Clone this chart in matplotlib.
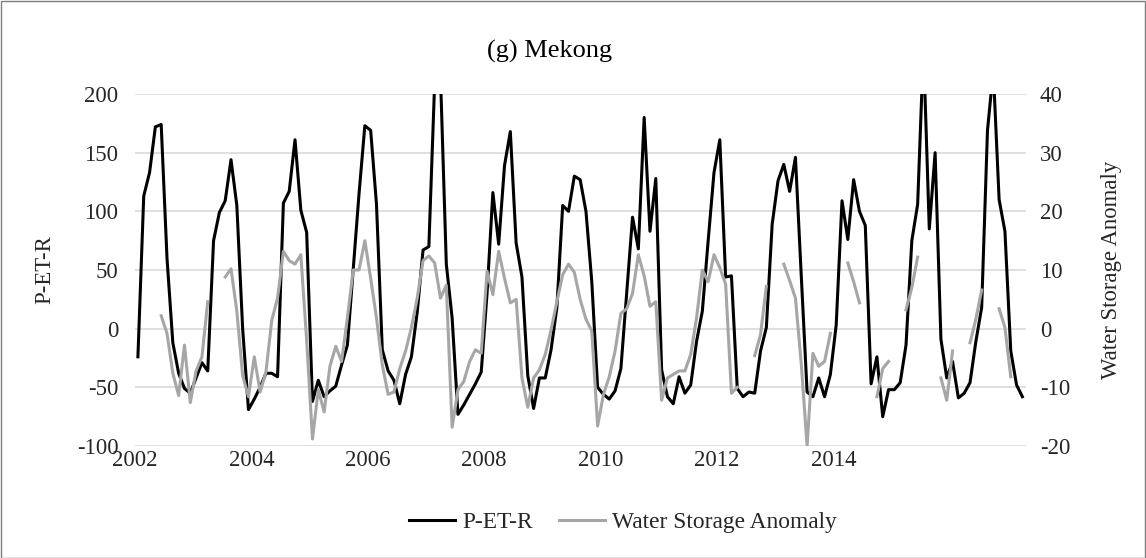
import matplotlib
matplotlib.use("Agg")

import matplotlib.pyplot as plt
import numpy as np
from matplotlib.lines import Line2D
from matplotlib.patches import Rectangle

plt.rcParams["font.family"] = ["Liberation Serif", "DejaVu Serif"]
plt.rcParams["axes.unicode_minus"] = False

# ------------------------------------------------------------------
# Data (monthly values)
# ------------------------------------------------------------------
nan = np.nan

pet_r = [
    -24, 113, 133, 172, 174, 60, -12, -38, -51, -55, -42, -29, -36,
    75, 99, 109, 144, 105, 0, -69, -60, -50, -38, -38, -41,
    107, 117, 161, 101, 82, -62, -44, -58, -53, -49, -31, -14,
    50, 115, 173, 169, 106, -18, -36, -44, -64, -39, -24, 14,
    67, 70, 210, 215, 55, 9, -73, -65, -56, -47, -37, 30,
    116, 72, 139, 168, 73, 44, -40, -68, -42, -42, -18, 18,
    105, 100, 130, 127, 100, 40, -50, -56, -60, -53, -34, 30,
    95, 68, 180, 83, 128, -35, -58, -64, -41, -55, -48, -11,
    15, 75, 133, 161, 44, 45, -51, -58, -54, -55, -19, 1,
    89, 126, 140, 117, 146, 45, -54, -58, -42, -58, -39, 3,
    109, 76, 127, 100, 88, -47, -24, -75, -52, -52, -46, -14,
    75, 106, 240, 85, 150, -9, -42, -28, -59, -55, -46, -11,
    18, 169, 220, 110, 83, -19, -48, -58,
]

water_storage = [
    nan, nan, nan, nan, 2.2, -0.8, -7.6, -11.4, -2.8, -12.6, -7.2, -4.8, 4.6,
    nan, nan, 8.8, 10.2, 3.0, -8.0, -11.6, -4.8, -10.8, -7.4, 1.4, 5.2,
    13.2, 11.6, 11.0, 12.6, -2.0, -18.8, -10.4, -14.2, -6.4, -3.0, -5.6, 1.8,
    10.0, 10.0, 15.0, 8.6, 1.8, -6.2, -11.2, -10.8, -6.8, -3.8, 0.2, 5.2,
    11.6, 12.4, 11.2, 5.2, 7.4, -16.8, -10.4, -9.0, -5.6, -3.6, -4.2, 9.8,
    5.8, 13.2, 8.6, 4.4, 5.0, -8.4, -13.4, -8.4, -7.0, -4.4, -0.2, 4.6,
    9.2, 11.0, 9.6, 5.0, 1.6, -0.4, -16.6, -11.2, -8.2, -3.8, 2.6, 3.4,
    6.0, 12.6, 9.0, 3.8, 4.6, -12.2, -8.4, -7.8, -7.2, -7.2, -4.4, 1.8,
    10.0, 8.0, 12.6, 10.4, 7.6, -11.0, -10.0, nan, nan, -4.6, -1.0, 7.2,
    nan, nan, 11.0, 8.2, 5.2, -6.0, -20.0, -4.2, -6.4, -5.6, -0.8, nan,
    nan, 11.2, 8.0, 4.4, nan, nan, -11.6, -6.8, -5.6, nan, nan, 3.2,
    7.0, 12.2, nan, nan, nan, -8.4, -12.2, -3.8, nan, nan, -2.4, 1.6,
    6.6, nan, nan, 3.4, 0.2, -8.2, nan, nan,
]

year_labels = ["2002", "2004", "2006", "2008", "2010", "2012", "2014"]

# ------------------------------------------------------------------
# Figure
# ------------------------------------------------------------------
W, H = 1146, 558
fig = plt.figure(figsize=(W / 100, H / 100), dpi=100)
fig.patch.set_facecolor("white")

ax = fig.add_axes([135 / W, 1 - 446 / H, (1026 - 135) / W, (446 - 94) / H])
ax2 = ax.twinx()

x = np.arange(len(pet_r))
ax.plot(x, pet_r, color="black", linewidth=2.2, zorder=3)
ax2.plot(x, water_storage, color="#a6a6a6", linewidth=2.2, zorder=3)

ax.set_xlim(-0.48, len(pet_r) - 1 + 0.62)
ax.set_ylim(-100, 200)
ax2.set_ylim(-20, 40)
ax.set_yticks(np.arange(-100, 201, 50))
ax2.set_yticks(np.arange(-20, 41, 10))
ax.set_xticks(np.arange(len(year_labels)) * 20 - 0.5)
ax.set_xticklabels(year_labels)

ax.yaxis.grid(True, color="#d9d9d9", linewidth=1.2)
ax.set_axisbelow(True)

text_color = "#262626"
for a in (ax, ax2):
    for s in a.spines.values():
        s.set_visible(False)
    a.tick_params(length=0, labelsize=16.4, labelcolor=text_color)
ax.tick_params(axis="y", pad=12)
ax.tick_params(axis="x", pad=3)
ax2.tick_params(axis="y", pad=10)

ax.set_ylabel("P-ET-R", fontsize=16.4, color=text_color)
ax.yaxis.set_label_coords((55 - 135) / 891, 0.5)
ax2.set_ylabel("Water Storage Anomaly", fontsize=16.4, color=text_color)
ax2.yaxis.set_label_coords((1101 - 135) / 891, 0.5)

fig.text(550 / W, 1 - 51 / H, "(g) Mekong", ha="center", va="center",
         fontsize=19, color="black")

handles = [
    Line2D([], [], color="black", linewidth=2.2),
    Line2D([], [], color="#a6a6a6", linewidth=2.2),
]
fig.legend(handles, ["P-ET-R", "Water Storage Anomaly"], loc="center",
           bbox_to_anchor=(623 / W, 1 - 522 / H), ncol=2, frameon=False,
           fontsize=16.8, handlelength=2.0, handletextpad=0.3,
           columnspacing=1.1, labelcolor=text_color)

# Chart area border
fig.add_artist(Rectangle((0.5 / W, 0.5 / H), 1 - 1.5 / W, 1 - 1.5 / H,
                         transform=fig.transFigure, fill=False,
                         edgecolor="#7f7f7f", linewidth=1.0))

fig.savefig("out.png", dpi=100)
